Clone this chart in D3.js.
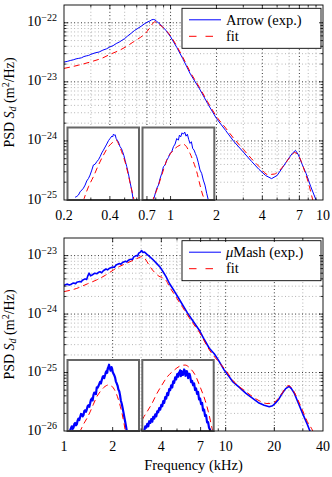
<!DOCTYPE html>
<html>
<head>
<meta charset="utf-8">
<script src="https://cdn.jsdelivr.net/npm/d3@7"></script>
<style>
  body { margin: 0; background: #fff; }
  text { font-family: 'Liberation Serif', 'Times New Roman', Times, serif; }
</style>
</head>
<body>
<svg id="chart" width="332" height="477"></svg>
<script>
// ---- Arrow panel (frequency in kHz, PSD in m^2/Hz) ----
const arrowXTicks = [0.2, 0.4, 0.7, 1, 2, 4, 7, 10];
const arrowYTicks = [1e-25, 1e-24, 1e-23, 1e-22];
const arrowExp = [
  [0.20, 2.16e-23], [0.21, 2.22e-23], [0.22, 2.30e-23], [0.23, 2.36e-23], [0.24, 2.45e-23],
  [0.25, 2.50e-23], [0.26, 2.55e-23], [0.27, 2.68e-23], [0.28, 2.75e-23], [0.29, 2.80e-23],
  [0.30, 2.92e-23], [0.32, 3.10e-23], [0.34, 3.20e-23], [0.36, 3.45e-23], [0.38, 3.62e-23],
  [0.40, 3.90e-23], [0.42, 4.10e-23], [0.44, 4.45e-23], [0.46, 4.70e-23], [0.48, 5.05e-23],
  [0.50, 5.40e-23], [0.52, 5.90e-23], [0.55, 6.60e-23], [0.58, 7.40e-23], [0.61, 8.05e-23],
  [0.64, 8.70e-23], [0.67, 9.50e-23], [0.70, 1.02e-22], [0.73, 1.07e-22], [0.75, 1.12e-22],
  [0.77, 1.14e-22], [0.79, 1.12e-22], [0.81, 1.06e-22], [0.84, 9.8e-23], [0.88, 8.7e-23],
  [0.93, 7.5e-23], [1.0, 5.8e-23], [1.1, 3.8e-23], [1.2, 2.5e-23], [1.35, 1.35e-23],
  [1.55, 7.6e-24], [1.75, 4.3e-24], [2.0, 2.4e-24], [2.3, 1.5e-24], [2.6, 9.8e-25],
  [3.0, 6.5e-25], [3.4, 4.5e-25], [3.8, 3.3e-25], [4.2, 2.6e-25], [4.6, 2.3e-25],
  [5.0, 2.6e-25], [5.45, 3.6e-25], [5.9, 4.9e-25], [6.3, 6.2e-25], [6.6, 6.9e-25],
  [6.9, 5.8e-25], [7.3, 4.0e-25], [7.75, 2.8e-25], [8.3, 1.7e-25], [9.0, 1.0e-25], [9.6, 6.5e-26]
];
const arrowFit = [
  [0.20, 1.69e-23], [0.25, 1.92e-23], [0.31, 2.24e-23], [0.36, 2.55e-23], [0.40, 2.91e-23],
  [0.46, 3.40e-23], [0.51, 3.92e-23], [0.56, 4.60e-23], [0.61, 5.30e-23], [0.66, 6.10e-23],
  [0.70, 7.10e-23], [0.74, 8.60e-23], [0.77, 1.0e-22], [0.79, 1.04e-22], [0.81, 1.01e-22],
  [0.85, 9.2e-23], [0.90, 8.2e-23], [0.95, 7.1e-23], [1.0, 6.0e-23], [1.1, 4.0e-23],
  [1.2, 2.65e-23], [1.35, 1.45e-23], [1.55, 8.0e-24], [1.75, 4.6e-24], [2.0, 2.6e-24],
  [2.3, 1.65e-24], [2.6, 1.1e-24], [3.0, 7.2e-25], [3.4, 5.0e-25], [3.8, 3.7e-25],
  [4.34, 2.7e-25], [4.8, 2.75e-25], [5.2, 3.2e-25], [5.6, 4.0e-25], [6.0, 5.1e-25],
  [6.3, 5.9e-25], [6.5, 6.35e-25], [6.8, 6.0e-25], [7.2, 4.5e-25], [7.6, 3.0e-25],
  [8.0, 2.0e-25], [8.57, 1.0e-25], [9.0, 6.5e-26]
];
// insets, linear scales: kHz and units of 1e-23 / 1e-25 m^2/Hz
const arrowZoom1Domain = { x: [0.5, 0.95], y: [4, 12] };
const arrowZoom1Exp = [
  [0.548, 4.30], [0.559, 4.40], [0.569, 4.55], [0.579, 4.90], [0.590, 5.10], [0.600, 5.30],
  [0.611, 5.65], [0.621, 6.10], [0.632, 6.38], [0.642, 6.75], [0.653, 7.30], [0.663, 7.86],
  [0.674, 7.95], [0.684, 8.22], [0.695, 8.45], [0.705, 8.77], [0.716, 9.20], [0.726, 9.50],
  [0.737, 9.85], [0.747, 10.17], [0.758, 10.55], [0.768, 10.79], [0.779, 11.05], [0.784, 10.95],
  [0.789, 11.26], [0.795, 11.15], [0.800, 11.20], [0.806, 10.79], [0.813, 10.60], [0.820, 10.42],
  [0.831, 9.87], [0.839, 9.70], [0.847, 9.32], [0.855, 8.90], [0.862, 8.40], [0.873, 7.67],
  [0.883, 6.94], [0.893, 6.02], [0.904, 5.10], [0.914, 4.0], [0.920, 3.5]
];
const arrowZoom1Fit = [
  [0.600, 3.9], [0.605, 4.18], [0.632, 5.46], [0.663, 6.57], [0.695, 7.86], [0.726, 8.95],
  [0.757, 9.87], [0.789, 10.42], [0.806, 10.61], [0.820, 10.24], [0.841, 9.32], [0.862, 8.22],
  [0.883, 6.75], [0.904, 5.10], [0.919, 4.0], [0.925, 3.5]
];
const arrowZoom2Domain = { x: [5.5, 7.7], y: [2, 7.2] };
const arrowZoom2Exp = [
  [5.836, 2.0], [5.887, 2.43], [5.938, 2.84], [5.989, 3.07], [6.04, 3.55], [6.091, 3.91],
  [6.142, 4.39], [6.193, 4.51], [6.244, 4.86], [6.294, 5.05], [6.345, 5.34], [6.396, 5.46],
  [6.447, 5.82], [6.498, 6.01], [6.549, 6.41], [6.6, 6.29], [6.631, 6.65], [6.671, 6.53],
  [6.712, 6.82], [6.752, 6.72], [6.794, 6.87], [6.834, 6.58], [6.875, 6.72], [6.916, 6.34],
  [6.956, 6.06], [6.998, 6.18], [7.038, 5.70], [7.08, 5.58], [7.119, 5.34], [7.161, 5.10],
  [7.212, 4.67], [7.262, 4.15], [7.313, 3.91], [7.363, 3.43], [7.414, 3.07], [7.467, 2.48],
  [7.517, 2.0], [7.54, 1.8]
];
const arrowZoom2Fit = [
  [5.79, 1.8], [5.816, 2.0], [5.938, 2.72], [6.091, 3.79], [6.244, 4.86], [6.447, 5.58],
  [6.651, 5.94], [6.732, 6.01], [6.804, 5.94], [6.956, 5.34], [7.058, 4.75], [7.161, 4.03],
  [7.262, 3.07], [7.363, 2.24], [7.414, 2.0], [7.44, 1.8]
];

// ---- uMash panel ----
const mashXTicks = [1, 2, 4, 7, 10, 20, 40];
const mashYTicks = [1e-26, 1e-25, 1e-24, 1e-23];
const mashExp = [
  [1.00, 3.1e-24], [1.03, 3.2e-24], [1.05, 3.25e-24], [1.08, 3.15e-24], [1.10, 3.2e-24],
  [1.13, 3.35e-24], [1.15, 3.4e-24], [1.18, 3.3e-24], [1.20, 3.5e-24], [1.25, 3.6e-24],
  [1.28, 3.55e-24], [1.30, 3.8e-24], [1.35, 4.0e-24], [1.38, 3.9e-24], [1.40, 4.4e-24],
  [1.43, 5.0e-24], [1.46, 4.5e-24], [1.50, 4.7e-24], [1.55, 5.0e-24], [1.60, 4.9e-24],
  [1.64, 5.2e-24], [1.67, 5.3e-24], [1.71, 5.1e-24], [1.75, 5.5e-24], [1.82, 5.9e-24],
  [1.86, 5.7e-24], [1.90, 6.0e-24], [2.00, 6.4e-24], [2.05, 6.3e-24], [2.10, 6.9e-24],
  [2.20, 7.3e-24], [2.25, 7.1e-24], [2.30, 7.6e-24], [2.40, 8.0e-24], [2.45, 7.8e-24],
  [2.50, 8.3e-24], [2.60, 8.7e-24], [2.65, 8.5e-24], [2.70, 9.5e-24], [2.80, 1.0e-23],
  [2.85, 9.8e-24], [2.90, 1.1e-23], [2.97, 1.15e-23], [3.02, 1.22e-23], [3.08, 1.13e-23],
  [3.15, 1.15e-23], [3.25, 1.06e-23], [3.40, 9.5e-24], [3.57, 8.4e-24], [3.75, 7.3e-24],
  [3.92, 6.4e-24], [4.10, 5.3e-24], [4.27, 4.4e-24], [4.50, 3.3e-24], [4.80, 2.5e-24],
  [5.10, 1.9e-24], [5.42, 1.43e-24], [5.80, 1.05e-24], [6.20, 8.0e-25], [6.87, 5.3e-25],
  [7.40, 3.6e-25], [7.92, 2.6e-25], [8.50, 2.1e-25], [9.0, 1.65e-25], [9.8, 1.1e-25],
  [11.05, 7.0e-26], [12.2, 5.5e-26], [13.35, 4.4e-26], [14.7, 3.6e-26], [16.1, 3.0e-26],
  [17.3, 2.75e-26], [18.6, 2.6e-26], [19.5, 2.7e-26], [20.3, 3.0e-26], [21.3, 3.5e-26],
  [22.4, 4.4e-26], [23.5, 5.3e-26], [24.7, 5.8e-26], [25.5, 5.3e-26], [26.6, 4.4e-26],
  [28.0, 3.1e-26], [29.9, 2.0e-26], [32.0, 1.3e-26], [33.7, 9e-27], [35.0, 7e-27]
];
const mashFit = [
  [1.0, 2.42e-24], [1.2, 2.75e-24], [1.4, 3.3e-24], [1.59, 3.83e-24], [1.8, 4.6e-24],
  [2.02, 5.67e-24], [2.2, 6.5e-24], [2.44, 7.4e-24], [2.7, 8.4e-24], [2.9, 9.2e-24],
  [3.02, 9.6e-24], [3.12, 9.3e-24], [3.25, 8.0e-24], [3.4, 6.5e-24], [3.8, 4.6e-24],
  [4.27, 3.8e-24], [4.5, 2.9e-24], [4.8, 2.2e-24], [5.42, 1.3e-24], [6.2, 7.3e-25],
  [6.87, 4.9e-25], [7.92, 2.45e-25], [9.0, 1.55e-25], [10.0, 1.1e-25], [11.05, 7.4e-26],
  [13.35, 4.7e-26], [16.1, 3.3e-26], [18.0, 2.95e-26], [19.5, 3.0e-26], [21.3, 3.7e-26],
  [22.4, 4.5e-26], [23.5, 5.5e-26], [24.5, 6.0e-26], [25.5, 5.5e-26], [26.6, 4.6e-26],
  [28.0, 3.4e-26], [30.0, 2.2e-26], [32.0, 1.45e-26], [34.6, 1.0e-26], [36.0, 7.5e-27]
];
// insets: kHz and units of 1e-24 / 1e-26 m^2/Hz
const mashZoom1Domain = { x: [1.5, 3.8], y: [3, 13] };
const mashZoom1Exp = [
  [1.585, 3.09], [1.612, 3.40], [1.639, 3.66], [1.666, 3.30], [1.693, 3.47], [1.72, 4.0],
  [1.746, 4.13], [1.773, 3.80], [1.8, 3.94], [1.827, 4.50], [1.853, 4.75], [1.88, 4.55],
  [1.907, 4.98], [1.934, 5.40], [1.96, 5.36], [1.987, 5.05], [2.013, 5.22], [2.04, 5.80],
  [2.067, 5.92], [2.094, 5.70], [2.12, 6.02], [2.147, 6.50], [2.174, 6.63], [2.20, 6.40],
  [2.227, 6.87], [2.254, 7.40], [2.281, 7.58], [2.308, 7.30], [2.334, 8.05], [2.361, 8.40],
  [2.388, 8.38], [2.415, 8.20], [2.441, 9.13], [2.468, 9.10], [2.495, 9.32], [2.52, 9.60],
  [2.548, 9.93], [2.575, 9.70], [2.602, 10.17], [2.63, 10.60], [2.655, 10.74], [2.68, 10.45],
  [2.709, 10.88], [2.735, 11.30], [2.762, 11.49], [2.778, 11.20], [2.794, 11.82], [2.815, 12.0],
  [2.837, 12.34], [2.853, 11.80], [2.869, 11.96], [2.885, 11.50], [2.901, 11.68], [2.917, 12.0],
  [2.933, 11.82], [2.955, 11.30], [2.976, 11.11], [3.0, 10.90], [3.03, 10.55], [3.055, 10.0],
  [3.083, 9.70], [3.11, 9.40], [3.137, 8.85], [3.165, 8.60], [3.19, 8.05], [3.215, 7.30],
  [3.243, 6.87], [3.27, 6.30], [3.297, 5.69], [3.325, 5.00], [3.351, 4.42], [3.38, 3.70],
  [3.404, 3.09], [3.42, 2.8]
];
const mashZoom1Fit = [
  [1.88, 2.8], [1.907, 3.0], [2.013, 3.94], [2.12, 4.75], [2.227, 5.69], [2.334, 6.77],
  [2.441, 7.81], [2.548, 8.52], [2.655, 9.08], [2.762, 9.42], [2.837, 9.51], [2.922, 9.32],
  [3.03, 8.66], [3.137, 7.43], [3.243, 5.69], [3.319, 4.04], [3.361, 3.0], [3.38, 2.6]
];
const mashZoom2Domain = { x: [17, 33], y: [2, 6.5] };
const mashZoom2Exp = [
  [17.45, 2.04], [17.67, 2.30], [17.89, 2.21], [18.12, 2.45], [18.34, 2.30], [18.56, 2.62],
  [18.79, 2.51], [19.0, 2.75], [19.23, 2.59], [19.45, 2.90], [19.68, 2.79], [19.9, 3.05],
  [20.13, 2.93], [20.35, 3.25], [20.57, 3.19], [20.8, 3.45], [21.02, 3.36], [21.25, 3.65],
  [21.47, 3.57], [21.7, 3.90], [21.91, 3.78], [22.14, 4.15], [22.36, 4.06], [22.58, 4.40],
  [22.8, 4.27], [23.03, 4.65], [23.25, 4.59], [23.48, 4.90], [23.7, 4.76], [23.92, 5.15],
  [24.14, 5.06], [24.37, 5.40], [24.59, 5.27], [24.82, 5.60], [25.04, 5.44], [25.19, 5.70],
  [25.33, 5.61], [25.48, 5.85], [25.63, 5.48], [25.78, 5.80], [25.93, 5.76], [26.08, 5.55],
  [26.23, 5.65], [26.38, 5.90], [26.53, 5.82], [26.68, 5.50], [26.82, 5.55], [26.97, 5.80],
  [27.12, 5.69], [27.27, 5.35], [27.42, 5.44], [27.57, 5.62], [27.72, 5.48], [27.94, 5.10],
  [28.16, 5.18], [28.38, 4.90], [28.61, 5.01], [28.83, 4.60], [29.05, 4.70], [29.27, 4.35],
  [29.5, 4.48], [29.72, 4.00], [29.95, 4.06], [30.17, 3.70], [30.4, 3.78], [30.62, 3.30],
  [30.84, 3.36], [31.07, 2.95], [31.29, 3.00], [31.52, 2.55], [31.74, 2.57], [31.96, 2.20],
  [32.18, 2.08], [32.33, 2.0], [32.45, 1.8]
];
const mashZoom2Fit = [
  [17.0, 2.70], [17.15, 2.79], [18.04, 3.21], [19.16, 3.74], [20.28, 4.38], [21.39, 4.91],
  [22.5, 5.40], [24.0, 5.82], [25.48, 6.12], [26.6, 6.18], [27.72, 5.97], [28.84, 5.55],
  [29.95, 4.80], [31.07, 3.95], [31.81, 3.21], [32.56, 2.26], [32.78, 2.0], [32.9, 1.8]
];

const svg = d3.select('#chart');
svg.append('rect').attr('width', 332).attr('height', 477).attr('fill', '#fff');

const left = 64;
const right = 323;
const blue = '#0000ff';
const red = '#ff0000';

const same = (a, b) => Math.abs(a - b) / b < 1e-6;

function addText(g, size) {
  return g.append('text')
    .style('font-family', "'Liberation Serif', 'Times New Roman', Times, serif")
    .style('font-size', size + 'px')
    .attr('fill', '#000');
}

function drawPanel(p) {
  const x = d3.scaleLog().domain(p.xDomain).range([left, right]);
  const y = d3.scaleLog().domain(p.yDomain).range([p.bottom, p.top]);

  svg.append('clipPath').attr('id', 'clip-' + p.id)
    .append('rect')
    .attr('x', left).attr('y', p.top)
    .attr('width', right - left).attr('height', p.bottom - p.top);

  const xt = x.ticks().filter((v) => v > p.xDomain[0] * 1.0001 && v < p.xDomain[1] * 0.9999);
  const yt = y.ticks().filter((v) => v > p.yDomain[0] * 1.0001 && v < p.yDomain[1] * 0.9999);
  const xMajor = (v) => p.xTicks.some((t) => same(v, t));
  const yMajor = (v) => p.yTicks.some((t) => same(v, t));

  // grid
  const grid = svg.append('g');
  grid.selectAll('.vg')
    .data(xt)
    .enter()
    .append('line')
    .attr('x1', (d) => x(d)).attr('x2', (d) => x(d))
    .attr('y1', p.top).attr('y2', p.bottom)
    .attr('stroke', (d) => xMajor(d) ? '#000' : '#8a8a8a')
    .attr('stroke-width', (d) => xMajor(d) ? 0.9 : 0.7)
    .attr('stroke-dasharray', '0.9,2.5');
  grid.selectAll('.hg')
    .data(yt)
    .enter()
    .append('line')
    .attr('y1', (d) => y(d)).attr('y2', (d) => y(d))
    .attr('x1', left).attr('x2', right)
    .attr('stroke', (d) => yMajor(d) ? '#000' : '#8a8a8a')
    .attr('stroke-width', (d) => yMajor(d) ? 0.9 : 0.7)
    .attr('stroke-dasharray', '0.9,2.5');

  // curves
  const line = d3.line()
    .x((d) => x(d[0]))
    .y((d) => y(d[1]));
  const fitLine = d3.line()
    .x((d) => x(d[0]))
    .y((d) => y(d[1]))
    .curve(d3.curveMonotoneX);
  const curves = svg.append('g').attr('clip-path', `url(#clip-${p.id})`);
  curves.append('path')
    .attr('d', line(p.exp))
    .attr('fill', 'none')
    .attr('stroke', blue)
    .attr('stroke-width', p.expWidth)
    .attr('stroke-linejoin', 'round');
  curves.append('path')
    .attr('d', fitLine(p.fit))
    .attr('fill', 'none')
    .attr('stroke', red)
    .attr('stroke-width', 1)
    .attr('stroke-dasharray', '6,4');

  // insets
  p.insets.forEach((ins, i) => {
    const ix = d3.scaleLinear().domain(ins.domain.x).range([ins.x0, ins.x1]);
    const iy = d3.scaleLinear().domain(ins.domain.y).range([p.bottom, ins.top]);
    const cid = `clip-${p.id}-in${i}`;
    svg.append('clipPath').attr('id', cid)
      .append('rect')
      .attr('x', ins.x0).attr('y', ins.top)
      .attr('width', ins.x1 - ins.x0).attr('height', p.bottom - ins.top);
    svg.append('rect')
      .attr('x', ins.x0).attr('y', ins.top)
      .attr('width', ins.x1 - ins.x0).attr('height', p.bottom - ins.top)
      .attr('fill', '#fff');
    const ig = svg.append('g').attr('clip-path', `url(#${cid})`);
    ig.append('path')
      .attr('d', d3.line().x((d) => ix(d[0])).y((d) => iy(d[1]))(ins.exp))
      .attr('fill', 'none')
      .attr('stroke', blue)
      .attr('stroke-width', ins.expWidth)
      .attr('stroke-linejoin', 'round');
    ig.append('path')
      .attr('d', d3.line().x((d) => ix(d[0])).y((d) => iy(d[1])).curve(d3.curveMonotoneX)(ins.fit))
      .attr('fill', 'none')
      .attr('stroke', red)
      .attr('stroke-width', 1)
      .attr('stroke-dasharray', '6,4');
    svg.append('rect')
      .attr('x', ins.x0).attr('y', ins.top)
      .attr('width', ins.x1 - ins.x0).attr('height', p.bottom - ins.top)
      .attr('fill', 'none')
      .attr('stroke', '#666')
      .attr('stroke-width', 2);
  });

  // legend
  const lg = svg.append('g');
  const lt = p.legendTop;
  lg.append('rect')
    .attr('x', 182).attr('y', lt)
    .attr('width', 139).attr('height', 40)
    .attr('fill', '#fff')
    .attr('stroke', '#000')
    .attr('stroke-width', 0.9);
  lg.append('line')
    .attr('x1', 189).attr('x2', 221).attr('y1', lt + 11.5).attr('y2', lt + 11.5)
    .attr('stroke', blue).attr('stroke-width', 1);
  lg.append('line')
    .attr('x1', 189).attr('x2', 221).attr('y1', lt + 28).attr('y2', lt + 28)
    .attr('stroke', red).attr('stroke-width', 1)
    .attr('stroke-dasharray', '7.5,9');
  const l1 = addText(lg, 14.5).attr('x', 226).attr('y', lt + 16.5);
  p.legendLabel.forEach((part) => {
    l1.append('tspan').style('font-style', part.italic ? 'italic' : 'normal').text(part.text);
  });
  addText(lg, 14.5).attr('x', 226).attr('y', lt + 32.5).text('fit');

  // frame and ticks
  const fr = svg.append('g');
  xt.forEach((v) => {
    const len = xMajor(v) ? 4 : 2.5;
    fr.append('line').attr('x1', x(v)).attr('x2', x(v)).attr('y1', p.bottom).attr('y2', p.bottom - len)
      .attr('stroke', '#000').attr('stroke-width', 0.8);
    fr.append('line').attr('x1', x(v)).attr('x2', x(v)).attr('y1', p.top).attr('y2', p.top + len)
      .attr('stroke', '#000').attr('stroke-width', 0.8);
  });
  yt.forEach((v) => {
    const len = yMajor(v) ? 4 : 2.5;
    fr.append('line').attr('y1', y(v)).attr('y2', y(v)).attr('x1', left).attr('x2', left + len)
      .attr('stroke', '#000').attr('stroke-width', 0.8);
    fr.append('line').attr('y1', y(v)).attr('y2', y(v)).attr('x1', right).attr('x2', right - len)
      .attr('stroke', '#000').attr('stroke-width', 0.8);
  });
  fr.append('rect')
    .attr('x', left).attr('y', p.top)
    .attr('width', right - left).attr('height', p.bottom - p.top)
    .attr('fill', 'none')
    .attr('stroke', '#000')
    .attr('stroke-width', 0.9);

  // tick labels
  p.xTicks.forEach((v) => {
    addText(fr, 14)
      .attr('x', x(v))
      .attr('y', p.bottom + 20)
      .attr('text-anchor', 'middle')
      .text(v);
  });
  p.yTicks.forEach((v) => {
    const t = addText(fr, 14)
      .attr('x', left - 7)
      .attr('y', y(v) + 3.5)
      .attr('text-anchor', 'end');
    t.append('tspan').text('10');
    t.append('tspan').attr('dy', -5.5).style('font-size', '10px')
      .text('\u2212' + Math.round(-Math.log10(v)));
  });

  // y label
  const yl = addText(svg, 14)
    .attr('transform', `translate(13.5, ${(p.top + p.bottom) / 2}) rotate(-90)`)
    .attr('text-anchor', 'middle');
  yl.append('tspan').text('PSD ');
  yl.append('tspan').style('font-style', 'italic').text('S');
  yl.append('tspan').style('font-style', 'italic').style('font-size', '10px').attr('dy', 2.5).text('d');
  yl.append('tspan').attr('dy', -2.5).text(' (m');
  yl.append('tspan').style('font-size', '10px').attr('dy', -5).text('2');
  yl.append('tspan').attr('dy', 5).text('/Hz)');
}

drawPanel({
  id: 'arrow', top: 5, bottom: 200,
  xDomain: [0.2, 10], yDomain: [1e-25, 2e-22],
  xTicks: arrowXTicks, yTicks: arrowYTicks,
  exp: arrowExp, fit: arrowFit, expWidth: 1,
  legendTop: 8.3,
  legendLabel: [{ text: 'Arrow (exp.)' }],
  insets: [
    { x0: 67.5, x1: 139, top: 127.5, domain: arrowZoom1Domain, exp: arrowZoom1Exp, fit: arrowZoom1Fit, expWidth: 1 },
    { x0: 142.5, x1: 214.3, top: 127.5, domain: arrowZoom2Domain, exp: arrowZoom2Exp, fit: arrowZoom2Fit, expWidth: 1 }
  ]
});

drawPanel({
  id: 'mash', top: 238, bottom: 431,
  xDomain: [1, 40], yDomain: [1e-26, 2e-23],
  xTicks: mashXTicks, yTicks: mashYTicks,
  exp: mashExp, fit: mashFit, expWidth: 1.6,
  legendTop: 240.7,
  legendLabel: [{ text: '\u03bc', italic: true }, { text: 'Mash (exp.)' }],
  insets: [
    { x0: 67.5, x1: 139, top: 360, domain: mashZoom1Domain, exp: mashZoom1Exp, fit: mashZoom1Fit, expWidth: 2.2 },
    { x0: 142.3, x1: 213.7, top: 360, domain: mashZoom2Domain, exp: mashZoom2Exp, fit: mashZoom2Fit, expWidth: 2.2 }
  ]
});

addText(svg, 14.5)
  .attr('x', (left + right) / 2)
  .attr('y', 470)
  .attr('text-anchor', 'middle')
  .text('Frequency (kHz)');
</script>
</body>
</html>
